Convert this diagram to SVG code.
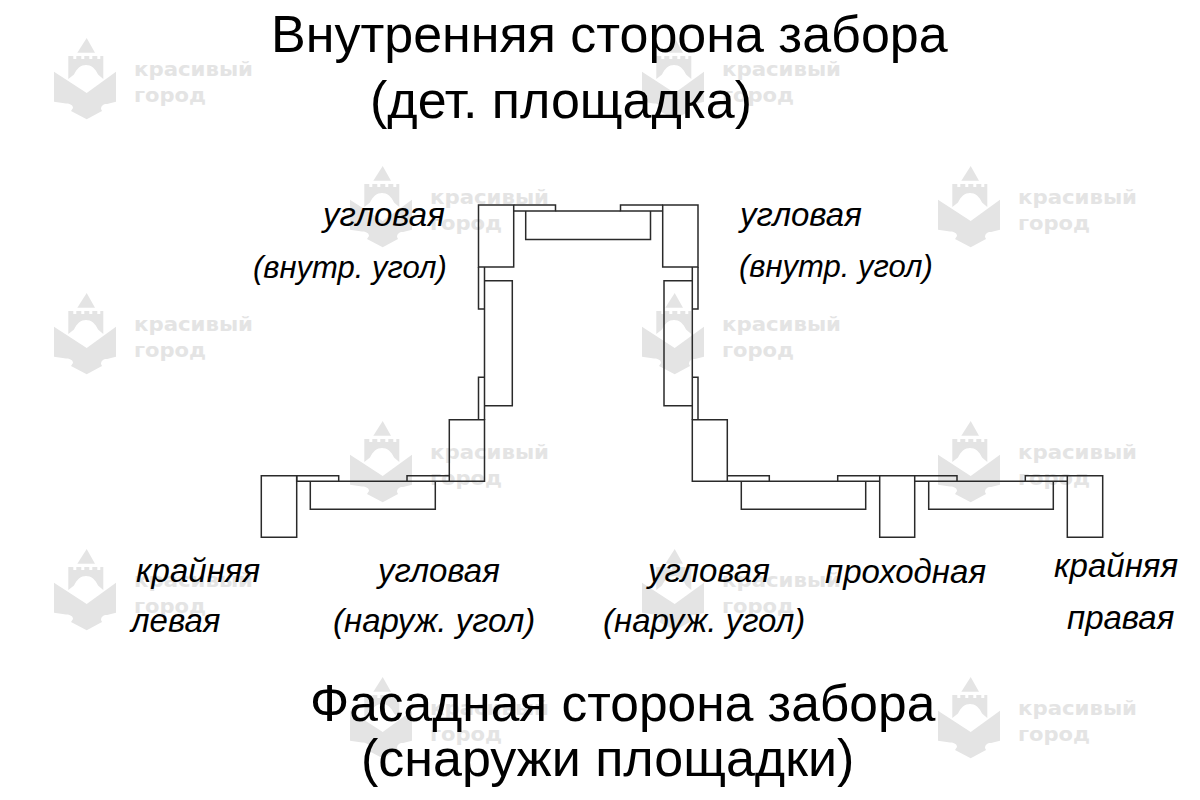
<svg xmlns="http://www.w3.org/2000/svg" xmlns:xlink="http://www.w3.org/1999/xlink" width="1200" height="800" viewBox="0 0 1200 800">
<style>
.wm{fill:#e4e4e4}
.wt{font-family:"DejaVu Sans",sans-serif;font-weight:700;font-size:20px;fill:#e4e4e4}
.p{fill:none;stroke:#2a2a2a;stroke-width:1.5}
.t{font-family:"Liberation Sans",Arial,sans-serif;font-size:52px;fill:#000}
.l{font-family:"Liberation Sans",Arial,sans-serif;font-style:italic;font-size:33px;fill:#000}
.s{font-size:31px}
</style>
<defs>
<g id="mark">
<path class="wm" d="M33.700 0L42 14.700H24.300z"/>
<path class="wm" d="M15.300 18H20.300V21H23.300V18H28.300V21H31.300V18H36.300V21H39.300V18H44.300V21H47.300V18H50.300V41L45 36.500C42 30 38 27 33 27C28 27 24 30 21 36.500L15.300 41z"/>
<path class="wm" d="M1 33.700L33.700 55L63 33.700V63.700L54 66C50 66 48 68 48 71L49 73L33.700 81.300L18 73L20 70C20 67 17 65.500 13 65.500L1 63.700z"/>
<text class="wt" x="81" y="38" textLength="119" lengthAdjust="spacingAndGlyphs">красивый</text>
<text class="wt" x="81" y="64" textLength="72" lengthAdjust="spacingAndGlyphs">город</text>
</g>
</defs>
<g id="watermarks">
<use xlink:href="#mark" href="#mark" x="53" y="38"/>
<use xlink:href="#mark" href="#mark" x="641" y="38"/>
<use xlink:href="#mark" href="#mark" x="349" y="166"/>
<use xlink:href="#mark" href="#mark" x="937" y="166"/>
<use xlink:href="#mark" href="#mark" x="53" y="293"/>
<use xlink:href="#mark" href="#mark" x="641" y="293"/>
<use xlink:href="#mark" href="#mark" x="349" y="421"/>
<use xlink:href="#mark" href="#mark" x="937" y="421"/>
<use xlink:href="#mark" href="#mark" x="53" y="549"/>
<use xlink:href="#mark" href="#mark" x="641" y="549"/>
<use xlink:href="#mark" href="#mark" x="349" y="677"/>
<use xlink:href="#mark" href="#mark" x="937" y="677"/>
</g>
<g id="plan">
<path class="p" d="M478.500 205H513.700V267H478.500z"/>
<path class="p" d="M513.700 205H555.500V211H513.700"/>
<path class="p" d="M555.500 211H620.500M525.700 211V239.500H650.500V211"/>
<path class="p" d="M662.700 205H620.500V211H662.700"/>
<path class="p" d="M662.700 205H698V267H662.700z"/>
<path class="p" d="M478.500 267V309H484.500M484.500 267V420"/>
<path class="p" d="M484.500 280.700H512.300V405.700H484.500"/>
<path class="p" d="M484.500 377.300H478.500V419.700"/>
<path class="p" d="M449.300 481.300V419.700H484.500V481.300H296.700V475.700H338.700V481.300"/>
<path class="p" d="M407 481.300V475.700H449.300"/>
<path class="p" d="M310.300 481.300V509.300H435.300V481.300"/>
<path class="p" d="M261.300 475.700H296.700V537.300H261.300z"/>
<path class="p" d="M698 267V309H692.300M692.300 267V419.700"/>
<path class="p" d="M692.300 280.700H664V405.700H692.300"/>
<path class="p" d="M692.300 377.300H698V419.700"/>
<path class="p" d="M692.300 419.700H727.300V481.300H692.300z"/>
<path class="p" d="M727.300 475.700H769.300V481.300M727.300 481.300H879.700"/>
<path class="p" d="M741.300 481.300V509.300H865.700V481.300"/>
<path class="p" d="M837.700 481.300V475.700H879.700"/>
<path class="p" d="M879.700 475.700H914.700V537.300H879.700z"/>
<path class="p" d="M914.700 475.700H957V481.300H914.700M957 481.300H1025.300"/>
<path class="p" d="M928.700 481.300V509.300H1053.300V481.300"/>
<path class="p" d="M1067.300 475.700H1025.300V481.300H1067.300"/>
<path class="p" d="M1067.300 475.700H1102.700V537.300H1067.300z"/>
</g>
<g id="labels">
<text class="t" x="271" y="52">Внутренняя сторона забора</text>
<text class="t" x="370" y="118">(дет. площадка)</text>
<text class="t" x="310" y="721" style="font-size:51.500px">Фасадная сторона забора</text>
<text class="t" x="361" y="776">(снаружи площадки)</text>
<text class="l" x="323" y="226">угловая</text>
<text class="l s" x="253" y="278">(внутр. угол)</text>
<text class="l" x="740" y="226">угловая</text>
<text class="l s" x="739" y="277">(внутр. угол)</text>
<text class="l" x="136" y="582">крайняя</text>
<text class="l" x="131" y="632">левая</text>
<text class="l" x="378" y="582">угловая</text>
<text class="l" x="333" y="632">(наруж. угол)</text>
<text class="l" x="648" y="582">угловая</text>
<text class="l" x="603" y="632">(наруж. угол)</text>
<text class="l" x="825" y="583">проходная</text>
<text class="l" x="1054" y="577">крайняя</text>
<text class="l" x="1067" y="629">правая</text>
</g>
</svg>
